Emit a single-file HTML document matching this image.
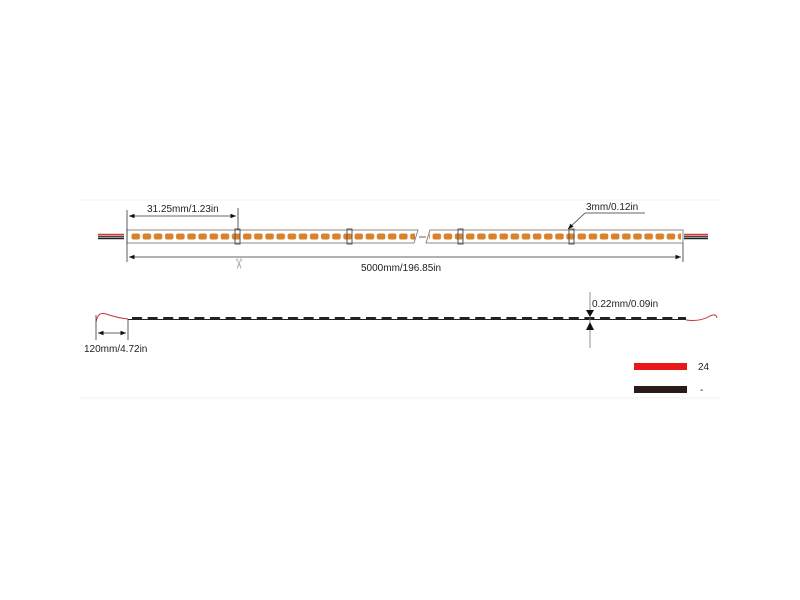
<!DOCTYPE html>
<html><head><style>body{margin:0;background:#fff}svg{display:block}text{font-family:"Liberation Sans",sans-serif;font-size:10px;fill:#222}</style></head>
<body>
<svg width="800" height="600" viewBox="0 0 800 600">
<defs>
<pattern id="led" patternUnits="userSpaceOnUse" x="130" y="0" width="11.15" height="600">
<rect x="1.5" y="233.5" width="8.5" height="6" rx="2" fill="#d9822b"/>
</pattern>
<pattern id="dash" patternUnits="userSpaceOnUse" x="130" y="0" width="15.6" height="600">
<rect x="2" y="317" width="10" height="3" fill="#222"/>
</pattern>
<marker id="ar" viewBox="0 0 10 10" refX="10" refY="5" markerWidth="7" markerHeight="7" orient="auto-start-reverse"><path d="M0,1L10,5L0,9z" fill="#111"/></marker>
</defs>
<line x1="80" y1="200" x2="720" y2="200" stroke="#f0f0f0"/>
<line x1="80" y1="398" x2="720" y2="398" stroke="#f0f0f0"/>
<line x1="98" y1="234.5" x2="124" y2="234.5" stroke="#d33" stroke-width="1.5"/>
<line x1="98" y1="236.5" x2="124" y2="236.5" stroke="#444" stroke-width="1.5"/>
<line x1="98" y1="238.5" x2="124" y2="238.5" stroke="#222" stroke-width="1.5"/>
<line x1="684" y1="234.5" x2="708" y2="234.5" stroke="#d33" stroke-width="1.5"/>
<line x1="684" y1="236.5" x2="708" y2="236.5" stroke="#444" stroke-width="1.5"/>
<line x1="684" y1="238.5" x2="708" y2="238.5" stroke="#222" stroke-width="1.5"/>
<path d="M127,230 H418 L414,243 H127 Z" fill="#fff" stroke="#888"/>
<path d="M430,230 H683 V243 H426 Z" fill="#fff" stroke="#888"/>
<rect x="129" y="231" width="286" height="11" fill="url(#led)"/>
<rect x="429" y="231" width="252" height="11" fill="url(#led)"/>
<line x1="419" y1="237" x2="426" y2="237" stroke="#666"/>
<g stroke="#555" fill="none">
<rect x="235" y="229" width="5" height="15"/><rect x="347" y="229" width="5" height="15"/>
<rect x="458" y="229" width="5" height="15"/><rect x="569" y="229" width="5" height="15"/>
</g>
<line x1="127" y1="210" x2="127" y2="262" stroke="#333" stroke-width=".8"/>
<line x1="238" y1="208" x2="238" y2="230" stroke="#333" stroke-width=".8"/>
<line x1="129" y1="216" x2="236" y2="216" stroke="#333" stroke-width=".8" marker-start="url(#ar)" marker-end="url(#ar)"/>
<text x="147" y="212">31.25mm/1.23in</text>
<line x1="568" y1="229" x2="585" y2="213" stroke="#333" stroke-width=".8" marker-start="url(#ar)"/>
<line x1="585" y1="213" x2="645" y2="213" stroke="#333" stroke-width=".8"/>
<text x="586" y="210">3mm/0.12in</text>
<text x="244" y="256" transform="rotate(90 238 252)" style="font-size:14px;fill:#aaa">✂</text>
<line x1="683" y1="243" x2="683" y2="262" stroke="#333" stroke-width=".8"/>
<line x1="129" y1="257" x2="681" y2="257" stroke="#333" stroke-width=".8" marker-start="url(#ar)" marker-end="url(#ar)"/>
<text x="361" y="271">5000mm/196.85in</text>
<line x1="128" y1="319.5" x2="686" y2="319.5" stroke="#222" stroke-width="1"/>
<rect x="128" y="315" width="558" height="6" fill="url(#dash)"/>
<path d="M96,322 Q98,311 106,314 Q118,318 128,319" stroke="#c33" fill="none"/>
<path d="M686,320 Q700,322 710,316 Q716,313 717,318" stroke="#c33" fill="none"/>
<line x1="96" y1="315" x2="96" y2="340" stroke="#333" stroke-width=".8"/>
<line x1="128" y1="319" x2="128" y2="340" stroke="#333" stroke-width=".8"/>
<line x1="98" y1="333" x2="126" y2="333" stroke="#333" stroke-width=".8" marker-start="url(#ar)" marker-end="url(#ar)"/>
<text x="84" y="352">120mm/4.72in</text>
<line x1="590" y1="292" x2="590" y2="348" stroke="#777" stroke-width=".8"/>
<path d="M586,310 L594,310 L590,317 Z M586,330 L594,330 L590,322 Z" fill="#111"/>
<text x="592" y="307">0.22mm/0.09in</text>
<rect x="634" y="363" width="53" height="7" fill="#e81818"/>
<text x="698" y="370">24</text>
<rect x="634" y="386" width="53" height="7" fill="#2a1a18"/>
<text x="700" y="393">-</text>
</svg>
</body></html>
